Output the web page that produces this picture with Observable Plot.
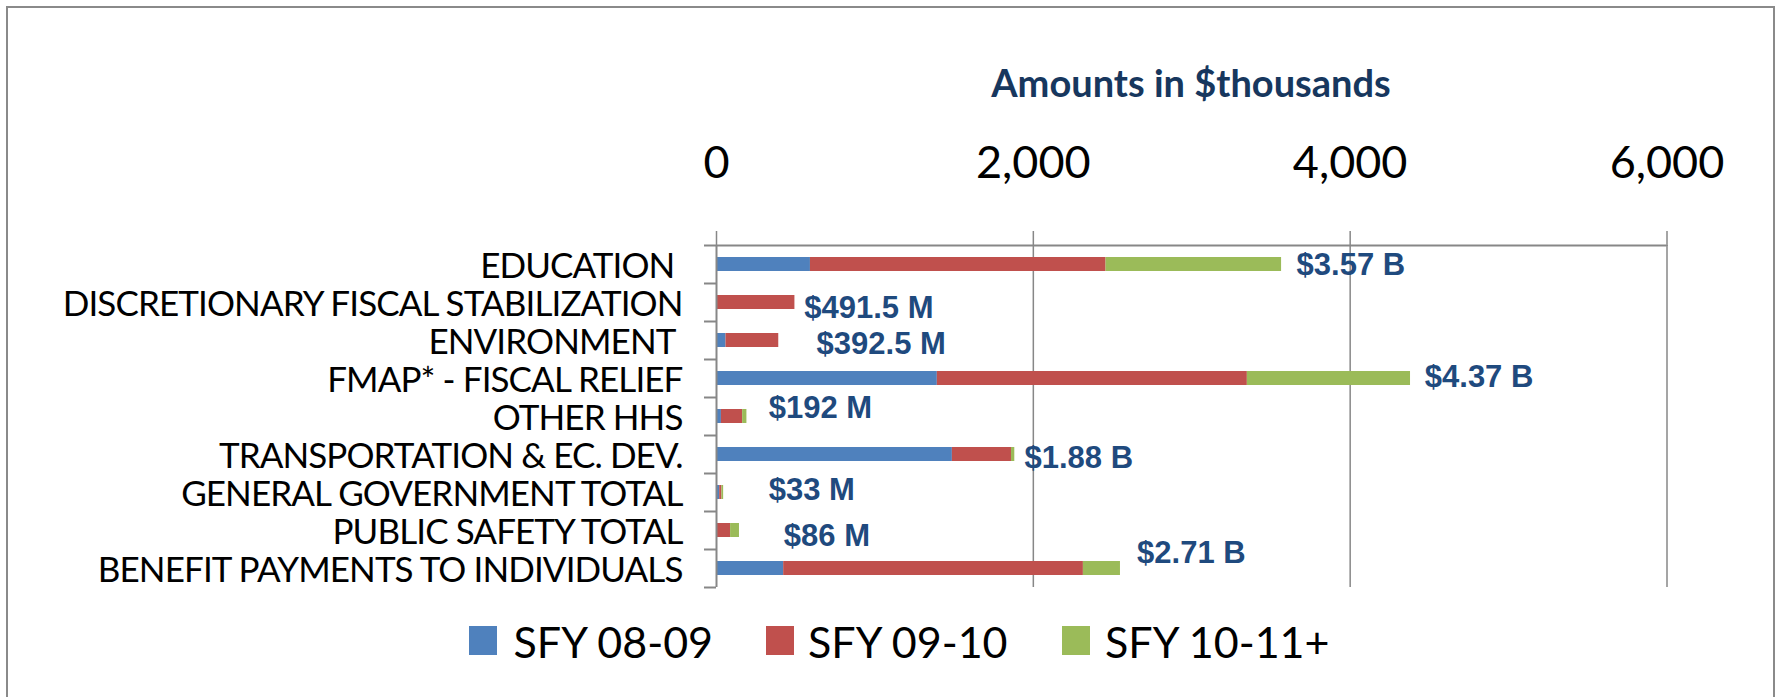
<!DOCTYPE html>
<html>
<head>
<meta charset="utf-8">
<script src="https://cdn.jsdelivr.net/npm/d3@7"></script>
<script src="https://cdn.jsdelivr.net/npm/@observablehq/plot@0.6"></script>
<style>
  html, body { margin: 0; padding: 0; background: #ffffff; }
  #wrap { position: relative; width: 1775px; height: 697px; overflow: hidden; background: #fff; }
  #frame { position: absolute; left: 6px; top: 6px; width: 1769px; height: 760px; border: 2.5px solid #8a8a8a; box-sizing: border-box; }
  #chart { position: absolute; left: 0; top: 0; }
  #chart g[aria-label="y-axis tick label"] text { letter-spacing: -0.9px; }
  #title { position: absolute; left: 891px; width: 600px; top: 63px; text-align: center;
           font-family: Lato, "Open Sans", sans-serif; font-weight: 700; font-size: 38px; line-height: 38px; color: #17375E; }
  .lg-item { position: absolute; top: 620px; height: 44px; }
  .lg-sw { position: absolute; left: 0; top: 6px; width: 28px; height: 29px; }
  .lg-tx { position: absolute; top: 0; white-space: nowrap; font-family: Lato, "Open Sans", sans-serif;
           font-size: 43px; line-height: 43px; color: #000; }
</style>
</head>
<body>
<div id="wrap">
  <div id="frame"></div>
  <div id="chart"></div>
  <div id="title"></div>
  <div id="legend"></div>
</div>
<script>
// ---------- data ----------
const categories = [
  "EDUCATION ",
  "DISCRETIONARY FISCAL STABILIZATION",
  "ENVIRONMENT ",
  "FMAP* - FISCAL RELIEF",
  "OTHER HHS",
  "TRANSPORTATION & EC. DEV.",
  "GENERAL GOVERNMENT TOTAL",
  "PUBLIC SAFETY TOTAL",
  "BENEFIT PAYMENTS TO INDIVIDUALS"
];
const seriesNames = ["SFY 08-09", "SFY 09-10", "SFY 10-11+"];
// amounts in $thousands
const sfy0809 = [593, 0, 60, 1394, 31, 1489, 20, 2, 424];
const sfy0910 = [1866, 495, 333, 1957, 134, 373, 14, 87, 1892];
const sfy1011 = [1108, 0, 0, 1030, 27, 21, 11, 56, 234];
const totalLabels = ["$3.57 B", "$491.5 M", "$392.5 M", "$4.37 B", "$192 M", "$1.88 B", "$33 M", "$86 M", "$2.71 B"];
const labelAt = [3662, 554, 632, 4471, 330, 1944, 330, 425, 2655]; // $thousands where each total label starts
const xTicks = [0, 2000, 4000, 6000];
const xTitle = "Amounts in $thousands";

// ---------- styling / layout ----------
const seriesColors = ["#4F81BD", "#C0504D", "#9BBB59"];
const labelDy = [1, 6, 4, -1.5, -8, 3.5, -2.5, 6, -15];
const W = 1775, H = 600;
const mL = 716, mR = 108.5, mT = 245, mB = 13;
const step = (H - mT - mB) / categories.length;
const unitsPerPx = 6000 / (W - mL - mR);
const axisGray = "#878787";

const seriesArrays = [sfy0809, sfy0910, sfy1011];
const rows = [];
categories.forEach((c, i) => {
  seriesArrays.forEach((arr, j) => rows.push({category: c, series: seriesNames[j], value: arr[i]}));
});

const labelMarks = categories.map((c, i) =>
  Plot.text([c], {
    x: () => labelAt[i], y: d => d, text: () => totalLabels[i],
    textAnchor: "start", dy: labelDy[i],
    fill: "#1F4A7E", fontWeight: "bold", fontSize: 31,
    fontFamily: "'Liberation Sans', Arial, sans-serif"
  })
);

const chart = Plot.plot({
  width: W, height: H,
  marginTop: mT, marginBottom: mB, marginLeft: mL, marginRight: mR,
  style: {background: "transparent", fontFamily: "Lato, sans-serif", overflow: "visible"},
  x: {domain: [0, 6000], axis: null},
  y: {domain: categories, axis: null, paddingInner: 0.62, paddingOuter: 0.31},
  color: {domain: seriesNames, range: seriesColors},
  marks: [
    Plot.ruleX(xTicks.slice(1), {stroke: axisGray, strokeWidth: 1.5}),
    Plot.barX(rows, Plot.stackX({x: "value", y: "category", fill: "series", order: seriesNames})),
    Plot.ruleX([0], {stroke: axisGray, strokeWidth: 2}),
    Plot.ruleY(categories, {
      y: d => d, x1: -12 * unitsPerPx, x2: (d, i) => (i === 0 ? 6000 : 0),
      dy: -step / 2, stroke: axisGray, strokeWidth: 2
    }),
    Plot.ruleY([categories[categories.length - 1]], {
      y: d => d, x1: -12 * unitsPerPx, x2: 0, dy: step / 2, stroke: axisGray, strokeWidth: 2
    }),
    Plot.axisX(xTicks, {
      anchor: "top", tickSize: 15, tickPadding: 53, stroke: axisGray, strokeWidth: 1.5,
      fill: "#000", fontSize: 45, fontFamily: "Lato, sans-serif",
      tickFormat: d3.format(","), label: null
    }),
    Plot.axisY({
      anchor: "left", tickSize: 0, tickPadding: 34, fill: "#000", fontSize: 35,
      fontFamily: "Lato, sans-serif", dy: 2, label: null,
      tickFormat: d => d.replace(/ $/, "\u00a0")
    }),
    ...labelMarks
  ]
});
document.getElementById("chart").appendChild(chart);

document.getElementById("title").textContent = xTitle;

const legendLeft = [469, 766, 1062];
const legendTextOffset = [44.5, 42, 43];
const legend = document.getElementById("legend");
seriesNames.forEach((name, i) => {
  const item = document.createElement("div");
  item.className = "lg-item";
  item.style.left = legendLeft[i] + "px";
  const sw = document.createElement("div");
  sw.className = "lg-sw";
  sw.style.background = seriesColors[i];
  const tx = document.createElement("div");
  tx.className = "lg-tx";
  tx.style.left = legendTextOffset[i] + "px";
  tx.textContent = name;
  item.appendChild(sw);
  item.appendChild(tx);
  legend.appendChild(item);
});
</script>
</body>
</html>
